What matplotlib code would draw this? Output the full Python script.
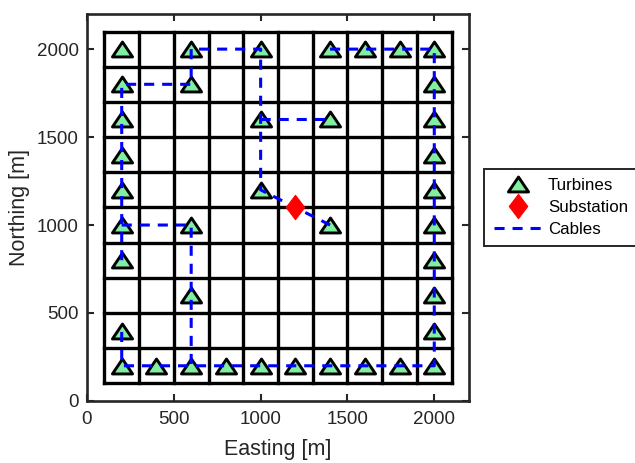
import numpy as np
import matplotlib
matplotlib.use("Agg")
import matplotlib.pyplot as plt
from matplotlib.lines import Line2D
from matplotlib.path import Path

plt.rcParams['font.family'] = ['Liberation Sans', 'DejaVu Sans']

# Turbine coordinates [m]
turb_x = [200, 600, 1000, 1400, 1600, 1800, 2000,
          200, 600, 2000,
          200, 1000, 1400, 2000,
          200, 2000,
          200, 1000, 2000,
          200, 600, 1400, 2000,
          200, 2000,
          600, 2000,
          200, 2000,
          200, 400, 600, 800, 1000, 1200, 1400, 1600, 1800, 2000]
turb_y = [2000] * 7 + [1800] * 3 + [1600] * 4 + [1400] * 2 + [1200] * 3 + \
         [1000] * 4 + [800] * 2 + [600] * 2 + [400] * 2 + [200] * 10

# Substation coordinates [m]
sub_x = [1200]
sub_y = [1100]

# Cable routes (each a polyline of vertices)
cable_routes = [
    [(200, 800), (200, 1800), (600, 1800), (600, 2000), (1000, 2000), (1000, 1200),
     (1200, 1100), (1400, 1000)],
    [(1000, 1600), (1400, 1600)],
    [(1400, 2000), (2000, 2000), (2000, 200), (200, 200), (200, 400)],
    [(200, 1000), (600, 1000), (600, 200)],
]

# Layout grid cell edges [m]
grid_edges = np.arange(100, 2101, 200)
axis_ticks = [0, 500, 1000, 1500, 2000]

TEXT = '#262626'
TURB_FACE = '#80f0a0'
CABLE = '#0000ff'

# Wide, flat triangle and tall diamond marker shapes
tri_marker = Path([(-1.0, -0.74), (1.0, -0.74), (0.0, 0.74), (-1.0, -0.74)],
                  [Path.MOVETO, Path.LINETO, Path.LINETO, Path.CLOSEPOLY])
dia_marker = Path([(0.0, 1.0), (0.76, 0.0), (0.0, -1.0), (-0.76, 0.0), (0.0, 1.0)],
                  [Path.MOVETO, Path.LINETO, Path.LINETO, Path.LINETO, Path.CLOSEPOLY])

turb_style = dict(linestyle='none', marker=tri_marker, markersize=14.5,
                  markerfacecolor=TURB_FACE, markeredgecolor='black',
                  markeredgewidth=2.1)
sub_style = dict(linestyle='none', marker=dia_marker, markersize=17.5,
                 markerfacecolor='red', markeredgecolor='red', markeredgewidth=0.8)
cable_style = dict(color=CABLE, lw=2.2, linestyle=(0, (3.3, 2.6)))

fig = plt.figure(figsize=(6.35, 4.63), dpi=100)
ax = fig.add_axes([0.137, 0.134, 0.6016, 0.8359])

# Cell grid
for e in grid_edges:
    ax.plot([e, e], [grid_edges[0], grid_edges[-1]], color='black', lw=2.4,
            solid_capstyle='projecting', zorder=1)
    ax.plot([grid_edges[0], grid_edges[-1]], [e, e], color='black', lw=2.4,
            solid_capstyle='projecting', zorder=1)

ax.plot(turb_x, turb_y, zorder=3, **turb_style)

cx, cy = [], []
for route in cable_routes:
    xs, ys = zip(*route)
    cx += list(xs) + [np.nan]
    cy += list(ys) + [np.nan]
ax.plot(cx, cy, zorder=4, **cable_style)

ax.plot(sub_x, sub_y, zorder=5, **sub_style)

ax.set_xlim(0, 2200)
ax.set_ylim(0, 2200)
ax.set_xticks(axis_ticks)
ax.set_yticks(axis_ticks)
ax.tick_params(direction='in', length=5, width=1.5, top=True, right=True,
               labelsize=13.5, colors=TEXT)
ax.tick_params(axis='x', pad=7)
ax.tick_params(axis='y', pad=6)
for s in ax.spines.values():
    s.set_linewidth(1.9)
    s.set_color(TEXT)
ax.set_xlabel('Easting [m]', fontsize=15.5, color=TEXT, labelpad=8)
ax.set_ylabel('Northing [m]', fontsize=15.5, color=TEXT, labelpad=5)

handles = [Line2D([], [], **turb_style), Line2D([], [], **sub_style),
           Line2D([], [], **cable_style)]
leg = ax.legend(handles, ['Turbines', 'Substation', 'Cables'],
                loc='center left', bbox_to_anchor=(1.04, 0.5), fontsize=12.2,
                frameon=True, fancybox=False, edgecolor=TEXT, framealpha=1,
                handlelength=2.9, handletextpad=0.3, borderpad=0.55,
                labelspacing=0.4, borderaxespad=0)
leg.get_frame().set_linewidth(1.4)
for t in leg.get_texts():
    t.set_color('black')

fig.savefig('out.png', dpi=100)
